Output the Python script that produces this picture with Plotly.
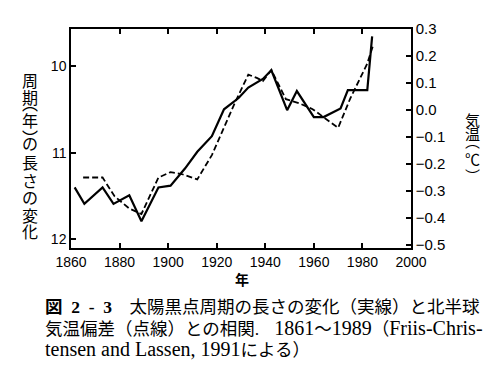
import plotly.graph_objects as go

# ---- data ----
sun_years = [1861.5, 1865.5, 1873, 1877.5, 1884, 1889, 1896, 1901, 1907, 1912,
             1918, 1923, 1929, 1933, 1939, 1942.5, 1949, 1953, 1960, 1964,
             1971, 1974, 1982, 1984]
sun_len = [11.40, 11.59, 11.40, 11.59, 11.49, 11.79, 11.40, 11.38, 11.18, 10.99,
           10.81, 10.50, 10.37, 10.25, 10.15, 10.05, 10.51, 10.29, 10.59, 10.59,
           10.49, 10.28, 10.28, 9.66]

temp_years = [1865, 1873, 1878, 1884, 1889, 1896, 1901, 1905.5, 1912, 1918,
              1927.5, 1933, 1936.5, 1939, 1942.5, 1948.5, 1954, 1959.5, 1970,
              1975, 1982, 1984.5]
temp_anom = [-0.25, -0.25, -0.32, -0.365, -0.385, -0.25, -0.23, -0.237, -0.257,
             -0.167, 0.027, 0.131, 0.119, 0.107, 0.148, 0.04, 0.025, 0.003,
             -0.066, 0.043, 0.172, 0.242]

x_ticks = [1860, 1880, 1900, 1920, 1940, 1960, 1980, 2000]
left_ticks = [10, 11, 12]
right_ticks = [0.3, 0.2, 0.1, 0.0, -0.1, -0.2, -0.3, -0.4, -0.5]
right_labels = ["0.3", "0.2", "0.1", "0.0", "−0.1", "−0.2", "−0.3", "−0.4", "−0.5"]

left_title = ["周", "期", "︵", "年", "︶", "の", "長", "さ", "の", "変", "化"]
right_title = ["気", "温", "︵", "℃", "︶"]

LAT = '<span style="font-size:20px">'
caption_lines = [
    "<b>図\u00a0\u00a02\u00a0\u00a0-\u00a0\u00a03</b>\u00a0\u00a0\u00a0\u00a0太陽黒点周期の長さの変化（実線）と北半球",
    "気温偏差（点線）との相関." + LAT + "\u00a0\u00a0\u00a01861</span>～"
    + LAT + "1989</span>（" + LAT + "Friis-Chris-</span>",
    LAT + "tensen and Lassen, 1991</span>による）",
]

# ---- layout geometry (page pixels; page body has an 8px margin) ----
OFF = 8
W, H = 500 - OFF, 368 - OFF
ML, MR, MT, MB = 71 - OFF, 89, 24 - OFF, 120
PW, PH = W - ML - MR, H - MT - MB   # 340 x 224
X0, Y1 = 71, 248                    # plot area left / bottom in page pixels


def px(x):
    return (x - X0) / PW


def py(y):
    return (Y1 - y) / PH


fig = go.Figure()
fig.add_trace(go.Scatter(x=sun_years, y=sun_len, mode="lines",
                         line=dict(color="black", width=2.2),
                         yaxis="y", showlegend=False))
fig.add_trace(go.Scatter(x=temp_years, y=temp_anom, mode="lines",
                         line=dict(color="black", width=1.8, dash="6px,3px"),
                         yaxis="y2", showlegend=False))

tickfont = dict(family="Liberation Sans, Arial, sans-serif", size=14, color="black")

fig.update_layout(
    width=W, height=H,
    margin=dict(l=ML, r=MR, t=MT, b=MB, pad=0),
    paper_bgcolor="white", plot_bgcolor="white",
    xaxis=dict(range=[1860, 2000], tickvals=x_ticks, ticks="inside", ticklen=5,
               tickwidth=1.5, tickcolor="black", showline=True, linecolor="black",
               linewidth=1.5, mirror="ticks", showgrid=False, zeroline=False,
               tickfont=tickfont),
    yaxis=dict(range=[12.098, 9.575], tickvals=left_ticks, ticks="inside",
               ticklen=5, tickwidth=1.5, tickcolor="black", showline=True,
               linecolor="black", linewidth=1.5, showgrid=False, zeroline=False,
               tickfont=tickfont),
    yaxis2=dict(range=[-0.511, 0.3], tickvals=right_ticks, ticktext=right_labels,
                overlaying="y", side="right", ticks="inside", ticklen=5,
                tickwidth=1.5, tickcolor="black", showline=True,
                linecolor="black", linewidth=1.5, showgrid=False, zeroline=False,
                tickfont=dict(family="Liberation Sans, Arial, sans-serif",
                              size=15, color="black")),
)

cjk = "Noto Sans CJK JP"
annotations = []
# vertical (tategaki) axis titles: one character per annotation
left_y = [76, 94, 100, 117, 134, 141, 160, 178, 196, 214, 231]
for ch, yy in zip(left_title, left_y):
    annotations.append(dict(text=ch, x=px(30), y=py(yy), xref="paper", yref="paper",
                            xanchor="center", yanchor="middle", showarrow=False,
                            font=dict(family=cjk, size=16, color="black")))
right_y = [117, 131, 138, 156, 174]
for ch, yy in zip(right_title, right_y):
    annotations.append(dict(text=ch, x=px(472), y=py(yy), xref="paper", yref="paper",
                            xanchor="center", yanchor="middle", showarrow=False,
                            font=dict(family=cjk, size=15, color="black")))
annotations.append(dict(text="<b>年</b>", x=px(242), y=py(280), xref="paper",
                        yref="paper", xanchor="center", yanchor="middle",
                        showarrow=False, font=dict(family=cjk, size=14, color="black")))
cap_y = [308, 330, 351]
for line, yy in zip(caption_lines, cap_y):
    annotations.append(dict(text=line, x=px(43), y=py(yy), xref="paper", yref="paper",
                            xanchor="left", yanchor="middle", showarrow=False,
                            font=dict(family="Liberation Serif, " + cjk, size=17.5,
                                      color="black")))
fig.update_layout(annotations=annotations)

fig.write_html("out.html")
